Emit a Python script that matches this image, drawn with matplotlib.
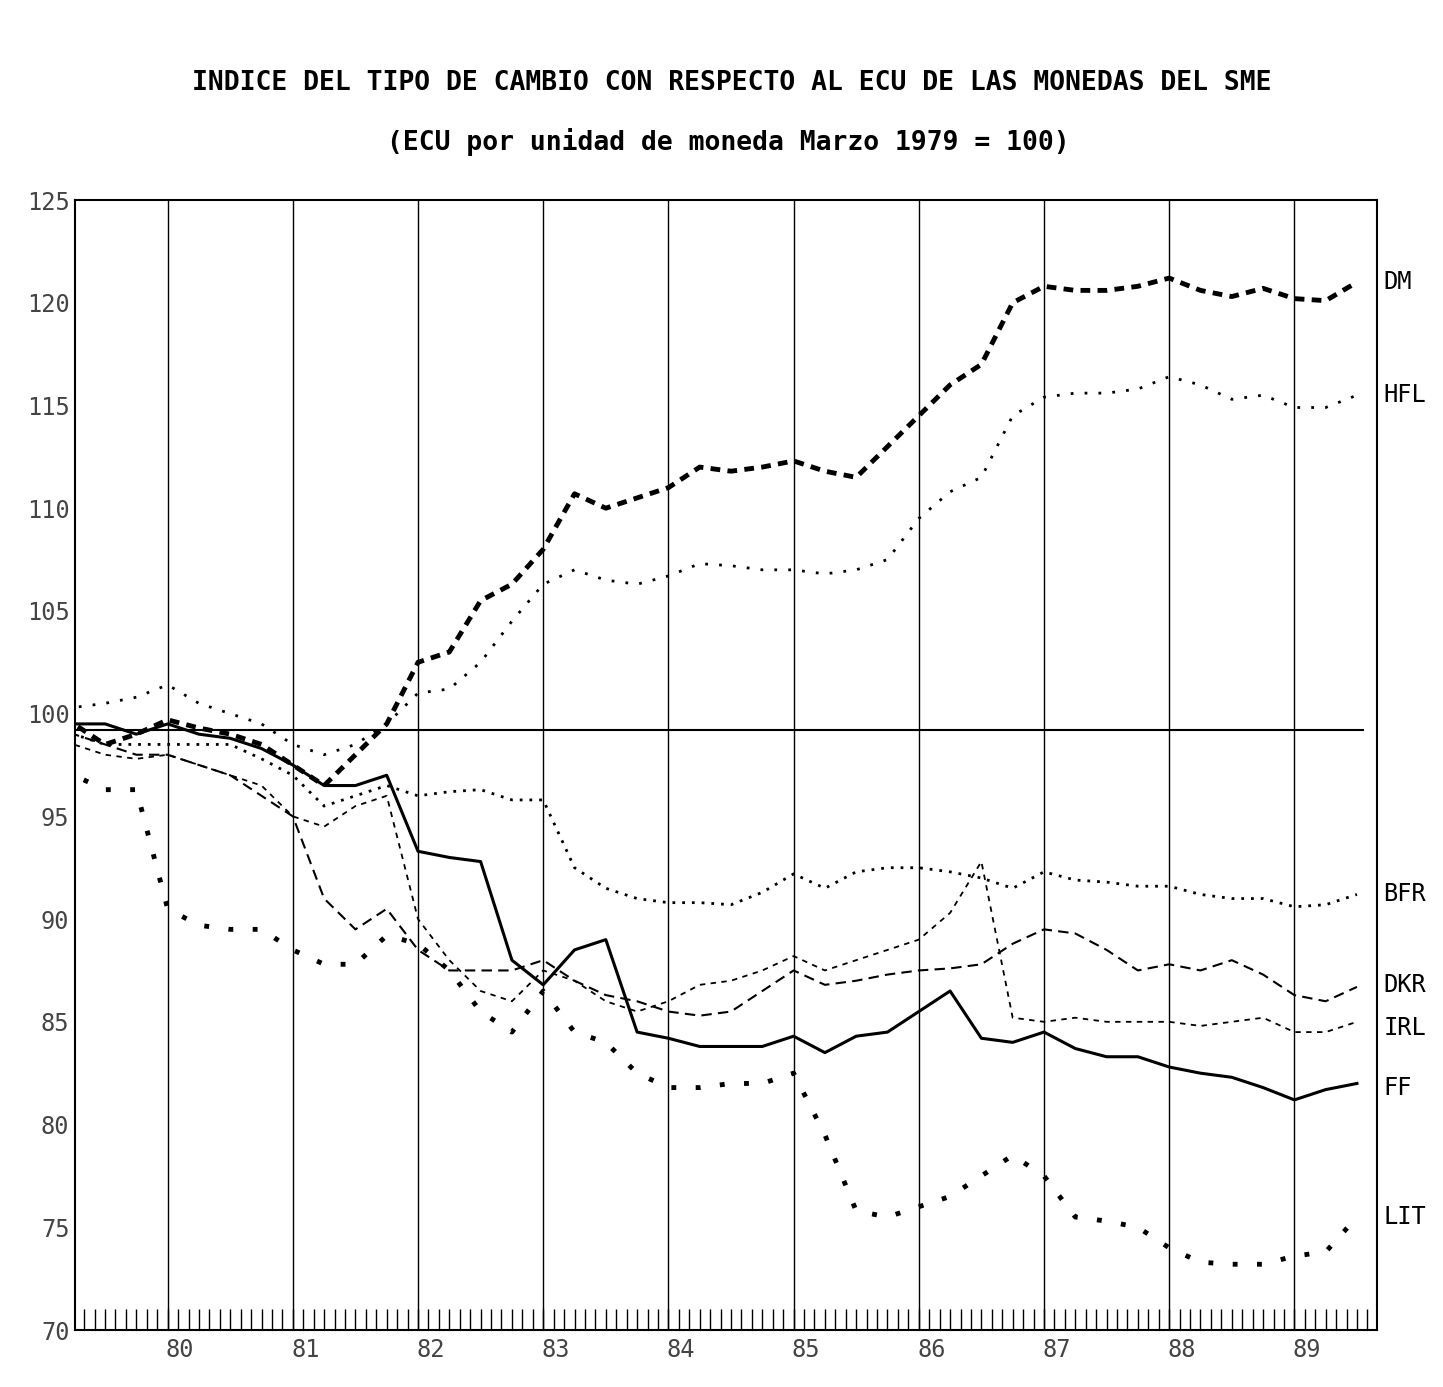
import numpy as np
import matplotlib
matplotlib.use("Agg")
import matplotlib.pyplot as plt

years = np.arange(1979.25, 1989.51, 0.25)
DM = [99.5,98.5,99, 99.7,99.3,99,98.5, 97.5,96.5,98,99.5, 102.5,103,105.5,106.3, 108,110.7,110,110.5,
      111,112,111.8,112, 112.3,111.8,111.5,113, 114.5,116,117,120, 120.8,120.6,120.6,120.8,
      121.2,120.6,120.3,120.7, 120.2,120.1,121]
HFL = [100.3,100.5,100.8, 101.4,100.5,100,99.5, 98.5,98,98.5,99.5, 101,101.2,102.5,104.5, 106.3,107,106.5,106.3,
       106.7,107.3,107.2,107, 107,106.8,107,107.5, 109.5,110.8,111.5,114.5, 115.4,115.6,115.6,115.8,
       116.4,116,115.3,115.5, 114.9,114.9,115.5]
BFR = [99,98.5,98.5, 98.5,98.5,98.5,97.8, 97,95.5,96,96.5, 96,96.2,96.3,95.8, 95.8,92.5,91.5,91,
       90.8,90.8,90.7,91.3, 92.2,91.5,92.3,92.5, 92.5,92.3,92,91.5, 92.3,91.9,91.8,91.6,
       91.6,91.2,91,91, 90.6,90.7,91.2]
DKR = [99,98.5,98, 98,97.5,97,96, 95,91,89.5,90.5, 88.5,87.5,87.5,87.5, 88,87,86.3,86,
       85.5,85.3,85.5,86.5, 87.5,86.8,87,87.3, 87.5,87.6,87.8,88.8, 89.5,89.3,88.5,87.5,
       87.8,87.5,88,87.3, 86.3,86,86.7]
IRL = [98.5,98,97.8, 98,97.5,97,96.5, 95,94.5,95.5,96, 90,88,86.5,86, 87.5,87,86,85.5,
       86,86.8,87,87.5, 88.2,87.5,88,88.5, 89,90.3,92.8,85.2, 85,85.2,85,85,
       85,84.8,85,85.2, 84.5,84.5,85]
FF = [99.5,99.5,99, 99.5,99,98.8,98.3, 97.5,96.5,96.5,97, 93.3,93,92.8,88, 86.8,88.5,89,84.5,
      84.2,83.8,83.8,83.8, 84.3,83.5,84.3,84.5, 85.5,86.5,84.2,84, 84.5,83.7,83.3,83.3,
      82.8,82.5,82.3,81.8, 81.2,81.7,82]
LIT = [97,96.3,96.3, 90.5,89.7,89.5,89.5, 88.5,87.8,87.8,89.2, 88.8,87.5,85.5,84.5, 86.5,84.5,84,82.5,
       81.8,81.8,82,82, 82.5,79.5,75.8,75.5, 76,76.5,77.5,78.5, 77.5,75.5,75.3,75,
       74,73.3,73.2,73.2, 73.6,73.8,75.5]
labels = ["DM", "HFL", "BFR", "DKR", "IRL", "FF", "LIT"]
label_y = [121.0, 115.5, 91.2, 86.8, 84.7, 81.8, 75.5]
xticks = ["80","81","82","83","84","85","86","87","88","89"]

mono = "DejaVu Sans Mono"
fig = plt.figure(figsize=(14.43, 13.87), dpi=100)
ax = fig.add_axes([75/1443, 57/1387, 1302/1443, 1130/1387])
x0, x1 = 1979.26, 1989.66
ax.set_xlim(x0, x1); ax.set_ylim(70, 125)

styles = {
    "DM": dict(ls=(0, (2, 1.5)), lw=3.5),
    "HFL": dict(ls=(0, (1, 4)), lw=2),
    "BFR": dict(ls=(0, (1, 2.5)), lw=2),
    "DKR": dict(ls=(0, (5, 3)), lw=1.5),
    "IRL": dict(ls=(0, (3, 3)), lw=1.3),
    "FF": dict(ls="-", lw=2.2),
    "LIT": dict(ls=(0, (1, 4)), lw=3.5),
}
series = [DM, HFL, BFR, DKR, IRL, FF, LIT]
for name, s in zip(labels, series):
    xs = np.concatenate([[1979.2], years])
    ys = np.concatenate([[100], s])
    ax.plot(xs, ys, color="black", **styles[name])
for name, yv in zip(labels, label_y):
    ax.text(1.005, (yv - 70) / 55, name, transform=ax.transAxes, fontsize=17,
            family=mono, va="center", ha="left")

ax.axhline(99.2, xmin=0, xmax=(1989.55 - x0) / (x1 - x0), color="black", lw=1.5)
for yr in range(1980, 1990):
    ax.axvline(yr, color="black", lw=1)
ax.set_xticks([yr + 0.1 for yr in range(1980, 1990)])
ax.set_xticklabels(xticks, family=mono, fontsize=17, color="#444")
ax.tick_params(axis="x", length=0, pad=6)
months = np.arange(1979.25, 1989.6, 1 / 12)
ax.vlines(months, 70, 71, color="black", lw=1)
ax.set_yticks(range(70, 126, 5))
ax.set_yticklabels([str(v) for v in range(70, 126, 5)], family=mono, fontsize=17, color="#444")
ax.tick_params(axis="y", length=0, pad=4)
for sp in ax.spines.values():
    sp.set_linewidth(1.5)

fig.text(0.507, 0.935, "INDICE DEL TIPO DE CAMBIO CON RESPECTO AL ECU DE LAS MONEDAS DEL SME",
         ha="center", fontsize=19, family=mono, weight="bold")
fig.text(0.505, 0.892, "(ECU por unidad de moneda Marzo 1979 = 100)",
         ha="center", fontsize=19, family=mono, weight="bold")
fig.savefig("out.png", dpi=100)
